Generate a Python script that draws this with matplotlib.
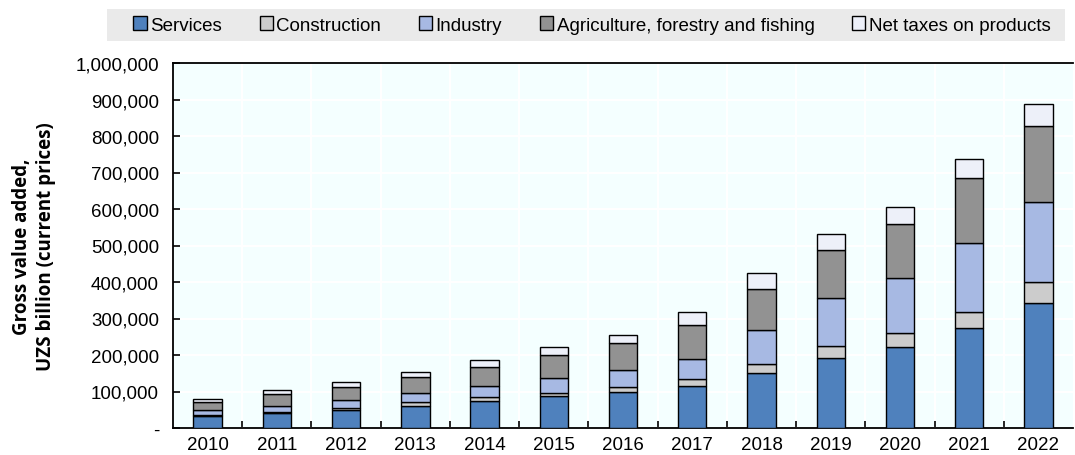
import numpy as np
import matplotlib.pyplot as plt
from matplotlib.patches import Rectangle
from matplotlib.ticker import FuncFormatter, MultipleLocator

years = [str(y) for y in range(2010, 2023)]
services = [32, 40, 48, 61, 73, 87, 98, 115, 150, 192, 222, 274, 342]
construction = [4, 5, 8, 9, 11, 10, 15, 18, 25, 33, 38, 44, 58]
industry = [13, 16, 20, 25, 32, 40, 45, 57, 93, 131, 151, 189, 219]
agriculture = [21, 31, 36, 44, 51, 63, 75, 92, 112, 132, 148, 178, 208]
net_taxes = [9, 12, 15, 14, 20, 22, 22, 35, 45, 43, 46, 52, 61]

series = [
    ("Services", services, "#4F81BD"),
    ("Construction", construction, "#CCCCCC"),
    ("Industry", industry, "#A7B9E3"),
    ("Agriculture, forestry and fishing", agriculture, "#929292"),
    ("Net taxes on products", net_taxes, "#EDF0F9"),
]

plt.rcParams['font.family'] = ['Liberation Sans Narrow', 'Liberation Sans', 'DejaVu Sans']

fig = plt.figure(figsize=(10.75, 4.56), dpi=100)
ax = fig.add_axes([173 / 1075, 1 - 429 / 456, 900 / 1075, 365 / 456])
ax.set_facecolor("#F4FFFF")

x = np.arange(len(years))
bottom = np.zeros(len(years))
handles = []
for name, vals, col in series:
    v = np.array(vals) * 1000
    b = ax.bar(x, v, 0.41, bottom=bottom, color=col, edgecolor="black",
               linewidth=1.0, label=name, zorder=3)
    handles.append(b)
    bottom += v

ax.set_xlim(-0.5, len(years) - 0.5)
ax.set_ylim(0, 1_000_000)
ax.yaxis.set_major_locator(MultipleLocator(100_000))
ax.yaxis.set_major_formatter(FuncFormatter(lambda v, p: "-" if v == 0 else f"{v:,.0f}"))
ax.set_xticks(x)
ax.set_xticklabels(years)
ax.set_xticks(np.arange(0.5, len(years) - 0.5), minor=True)
ax.tick_params(axis="x", which="major", length=0, labelsize=13.5, pad=6)
ax.tick_params(axis="x", which="minor", direction="in", length=5, width=1.2)
ax.tick_params(axis="y", direction="in", length=5, width=1.2, labelsize=13.5, pad=10)

ax.grid(True, axis="y", color="white", linewidth=1.5, zorder=0)
ax.grid(True, axis="x", which="minor", color="white", linewidth=1.5, zorder=0)
for s in ["left", "bottom", "top"]:
    ax.spines[s].set_linewidth(1.3)
ax.spines["right"].set_visible(False)

ax.set_ylabel("Gross value added,\nUZS billion (current prices)", fontsize=13.5,
              fontweight="bold", family=["Open Sans", "DejaVu Sans"], labelpad=14,
              linespacing=1.3)

fig.patches.append(Rectangle((107 / 1075, 1 - 42 / 456), 958 / 1075, 32 / 456,
                             transform=fig.transFigure, facecolor="#EAEAEA",
                             edgecolor="none", zorder=0))
fig.legend(handles=handles, loc="center", bbox_to_anchor=(592 / 1075, 1 - 26 / 456),
           ncol=5, frameon=False, fontsize=13.5, handlelength=0.7, handleheight=0.7,
           handletextpad=0.2, columnspacing=2.0)

fig.savefig("out.png", dpi=100)
